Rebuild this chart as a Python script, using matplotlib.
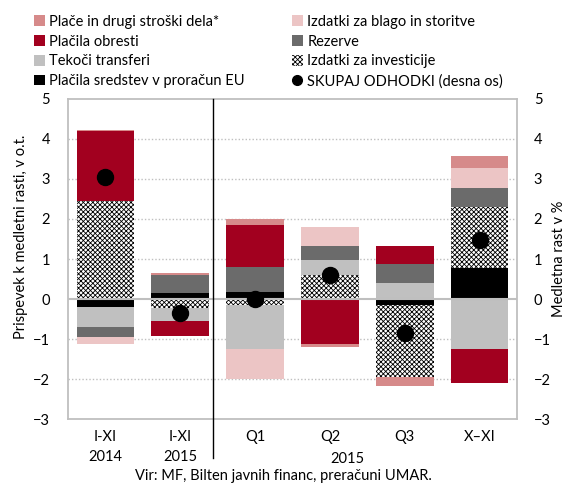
import matplotlib.pyplot as plt
import numpy as np
from matplotlib.patches import Patch
from matplotlib.lines import Line2D

plt.rcParams['font.family'] = ['Lato', 'DejaVu Sans']
plt.rcParams['hatch.linewidth'] = 0.6

categories = ['I-XI\n2014', 'I-XI\n2015', 'Q1', 'Q2', 'Q3', 'X–XI']

# contributions to y/y growth, p.p. (stacking order from zero outward)
eu = [-0.19, 0.14, 0.17, 0.0, -0.15, 0.78]
investicije = [2.45, -0.22, -0.15, 0.60, -1.81, 1.53]
tekoci = [-0.52, -0.33, -1.10, 0.37, 0.41, -1.25]
rezerve = [-0.23, 0.46, 0.62, 0.36, 0.47, 0.46]
obresti = [1.75, -0.37, 1.06, -1.12, 0.44, -0.86]
blago = [-0.18, 0.0, -0.75, 0.46, 0.0, 0.51]
place = [0.03, 0.04, 0.15, -0.08, -0.21, 0.30]
skupaj = [3.06, -0.34, 0.0, 0.60, -0.86, 1.48]

series = [
    (eu, 'Plačila sredstev v proračun EU', '#000000', None),
    (investicije, 'Izdatki za investicije', 'white', 'xxxxxxx'),
    (tekoci, 'Tekoči transferi', '#c0c0c0', None),
    (rezerve, 'Rezerve', '#6b6b6b', None),
    (obresti, 'Plačila obresti', '#a2001f', None),
    (blago, 'Izdatki za blago in storitve', '#ecc5c5', None),
    (place, 'Plače in drugi stroški dela*', '#d68a8a', None),
]

fig = plt.figure(figsize=(5.67, 4.91), dpi=100)
ax = fig.add_axes([0.1199, 0.1466, 0.7919, 0.6518])

x = np.arange(len(categories))
pos = np.zeros(len(x))
neg = np.zeros(len(x))
for vals, name, color, hatch in series:
    v = np.array(vals)
    bottom = np.where(v >= 0, pos, neg)
    ax.bar(x, v, 0.77, bottom=bottom, color=color, hatch=hatch,
           edgecolor='black' if hatch else color, linewidth=0, zorder=3)
    pos += np.where(v > 0, v, 0)
    neg += np.where(v < 0, v, 0)

ax.set_xlim(-0.5, 5.5)
ax.set_ylim(-3, 5)
ax.set_yticks(range(-3, 6))
ax.set_xticks(x)
ax.set_xticklabels(categories, fontsize=10.5, linespacing=1.5)
ax.tick_params(length=0, labelsize=10.5)
ax.tick_params(axis='y', pad=13)
ax.tick_params(axis='x', pad=8)
for yv in [-2, -1, 1, 2, 3, 4]:
    ax.axhline(yv, color='#bfbfbf', lw=1, ls=(0, (1, 1.5)), zorder=1)
ax.axhline(0, color='#bfbfbf', lw=1.5, zorder=4)
for s in ax.spines.values():
    s.set_color('#bfbfbf')
    s.set_linewidth(1.3)
ax.set_ylabel('Prispevek k medletni rasti, v o.t.', fontsize=10.5)
ax.yaxis.set_label_coords(-0.09, 0.57)

ax2 = ax.twinx()
ax2.set_ylim(-3, 5)
ax2.set_yticks(range(-3, 6))
ax2.tick_params(length=0, labelsize=10.5, pad=12)
ax2.plot(x, skupaj, 'o', color='black', markersize=11.5, zorder=5)
ax2.set_ylabel('Medletna rast v %', fontsize=10.5)
ax2.yaxis.set_label_coords(1.078, 0.5)
for s in ax2.spines.values():
    s.set_visible(False)

# separator between annual and quarterly data
ax.plot([1.44, 1.44], [1.0, -0.122], transform=ax.get_xaxis_transform(),
        color='black', lw=1, clip_on=False, zorder=6)
ax.text(3.24, -4.0, '2015', ha='center', va='center', fontsize=10.5)

fig.text(0.5, 0.016, 'Vir: MF, Bilten javnih financ, preračuni UMAR.',
         ha='center', va='bottom', fontsize=10.5)

# legend, two columns
def patch(i):
    vals, name, color, hatch = series[i]
    return Patch(facecolor=color, hatch=hatch, edgecolor='black' if hatch else color,
                 linewidth=0, label=name)

left = [patch(6), patch(4), patch(2), patch(0)]
right = [patch(5), patch(3), patch(1),
         Line2D([], [], marker='o', color='black', ls='none', markersize=7,
                label='SKUPAJ ODHODKI (desna os)')]
kw = dict(frameon=False, fontsize=10.5, handlelength=0.75, handleheight=0.75,
          handletextpad=0.3, labelspacing=0.4, borderpad=0, borderaxespad=0)
fig.legend(handles=left, loc='upper left', bbox_to_anchor=(0.06, 0.97), **kw)
fig.legend(handles=right, loc='upper left', bbox_to_anchor=(0.515, 0.97), **kw)

fig.savefig('out.png', dpi=100)
